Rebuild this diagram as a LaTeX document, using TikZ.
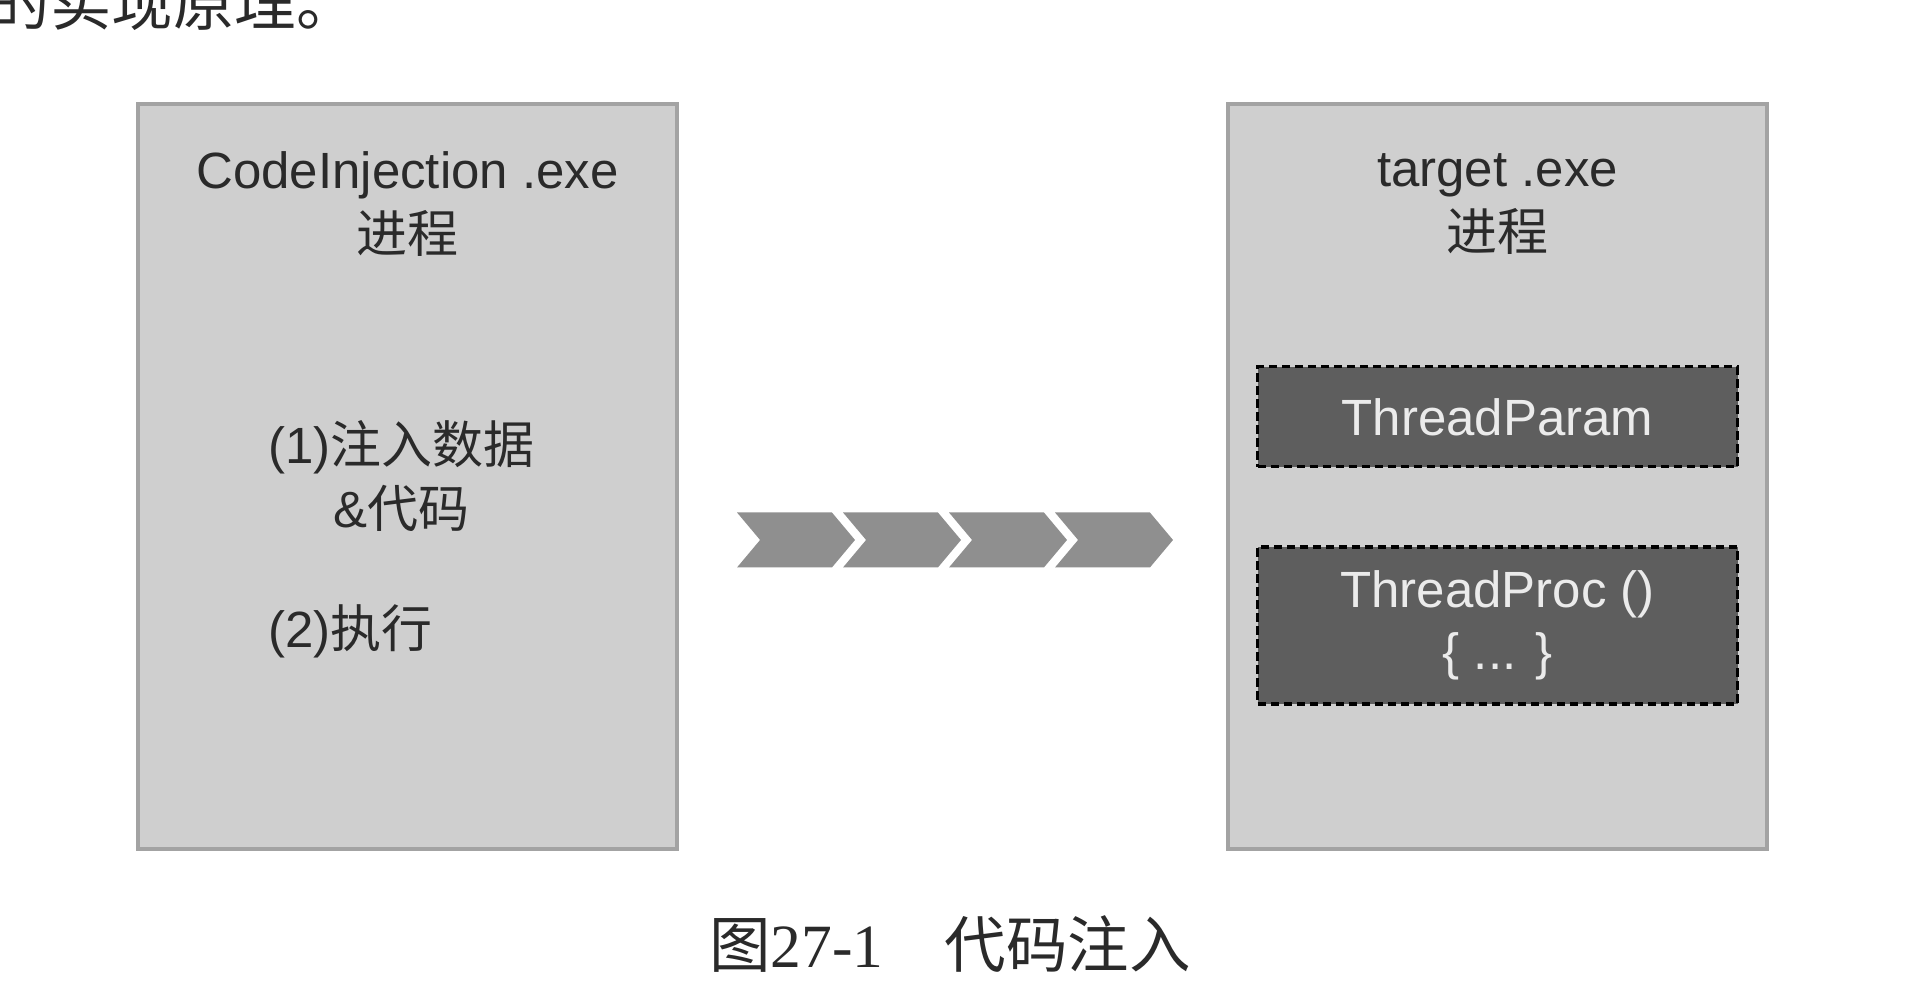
\documentclass[tikz,border=0pt]{standalone}
\usepackage{fontspec}
\setmainfont{Liberation Sans}
\newfontfamily\cjk{Noto Sans CJK SC}
\newfontfamily\capfont{Liberation Serif}
\usepackage{tikz}
\usetikzlibrary{positioning,shapes.symbols}
\definecolor{procgray}{HTML}{CFCFCF}
\definecolor{procline}{HTML}{A3A3A3}
\definecolor{blockgray}{HTML}{5E5E5E}
\definecolor{chevgray}{HTML}{8F8F8F}
\definecolor{inktext}{HTML}{2A2A2A}
\tikzset{
	proc/.style={minimum width=5.39cm,minimum height=7.45cm,draw=procline,line width=1.2pt,fill=procgray},
	boxtext/.style={font=\fontsize{14.5}{18.2}\selectfont,text=inktext,align=center,inner sep=0pt},
	block/.style={minimum width=4.8cm,draw=black,line width=0.9pt,dash pattern=on 2.4pt off 1.3pt,fill=blockgray,text=white!92!black,font=\fontsize{14.5}{17.6}\selectfont,align=center,inner sep=0pt},
	chev/.style={signal,signal from=west,signal to=east,signal pointer angle=100,minimum width=1.18cm,minimum height=0.55cm,inner sep=0pt,fill=chevgray},
}
\begin{document}
\begin{tikzpicture}
		\useasboundingbox (0,0) rectangle (19.1,10);
		\clip (0,0) rectangle (19.1,10);
		
		\node[anchor=base west,inner sep=0pt,text=inktext,font=\fontsize{17.5}{21}\selectfont\cjk] (prev) at (-0.12,9.74) {的实现原理。};
		
		\node[proc] (inj) at (4.075,5.235) {};
		\node[proc] (tgt) at (14.975,5.235) {};
		
		\node[boxtext,shift={(0,-1.02)}] (injname) at (inj.north) {CodeInjection .exe\\{\cjk 进程}};
		\node[boxtext,shift={(0,-1.02)}] (tgtname) at (tgt.north) {target .exe\\{\cjk 进程}};
		
		\node[boxtext,shift={(-0.06,0)}] (step1) at (inj.center) {(1){\cjk 注入数据}\\\&{\cjk 代码}};
		\node[boxtext,anchor=west,shift={(0,-1.55)}] (step2) at (step1.west) {(2){\cjk 执行}};
		
		\node[block,minimum height=1cm,shift={(0,-3.15)}] (param) at (tgt.north) {ThreadParam};
		\node[block,minimum height=1.57cm,below=0.77cm of param] (tproc) {ThreadProc ()\\\{ ... \}};
		
		\node[chev] (c1) at (7.96,4.6) {};
		\node[chev,shift={(1.06,0)}] (c2) at (c1.center) {};
		\node[chev,shift={(1.06,0)}] (c3) at (c2.center) {};
		\node[chev,shift={(1.06,0)}] (c4) at (c3.center) {};
		
		\node[inner sep=0pt,text=inktext,font=\fontsize{17.5}{21}\selectfont] (cap) at (9.5,0.56) {{\cjk 图}{\capfont 27-1}\hspace{1em}{\cjk 代码注入}};
	\end{tikzpicture}
\end{document}
